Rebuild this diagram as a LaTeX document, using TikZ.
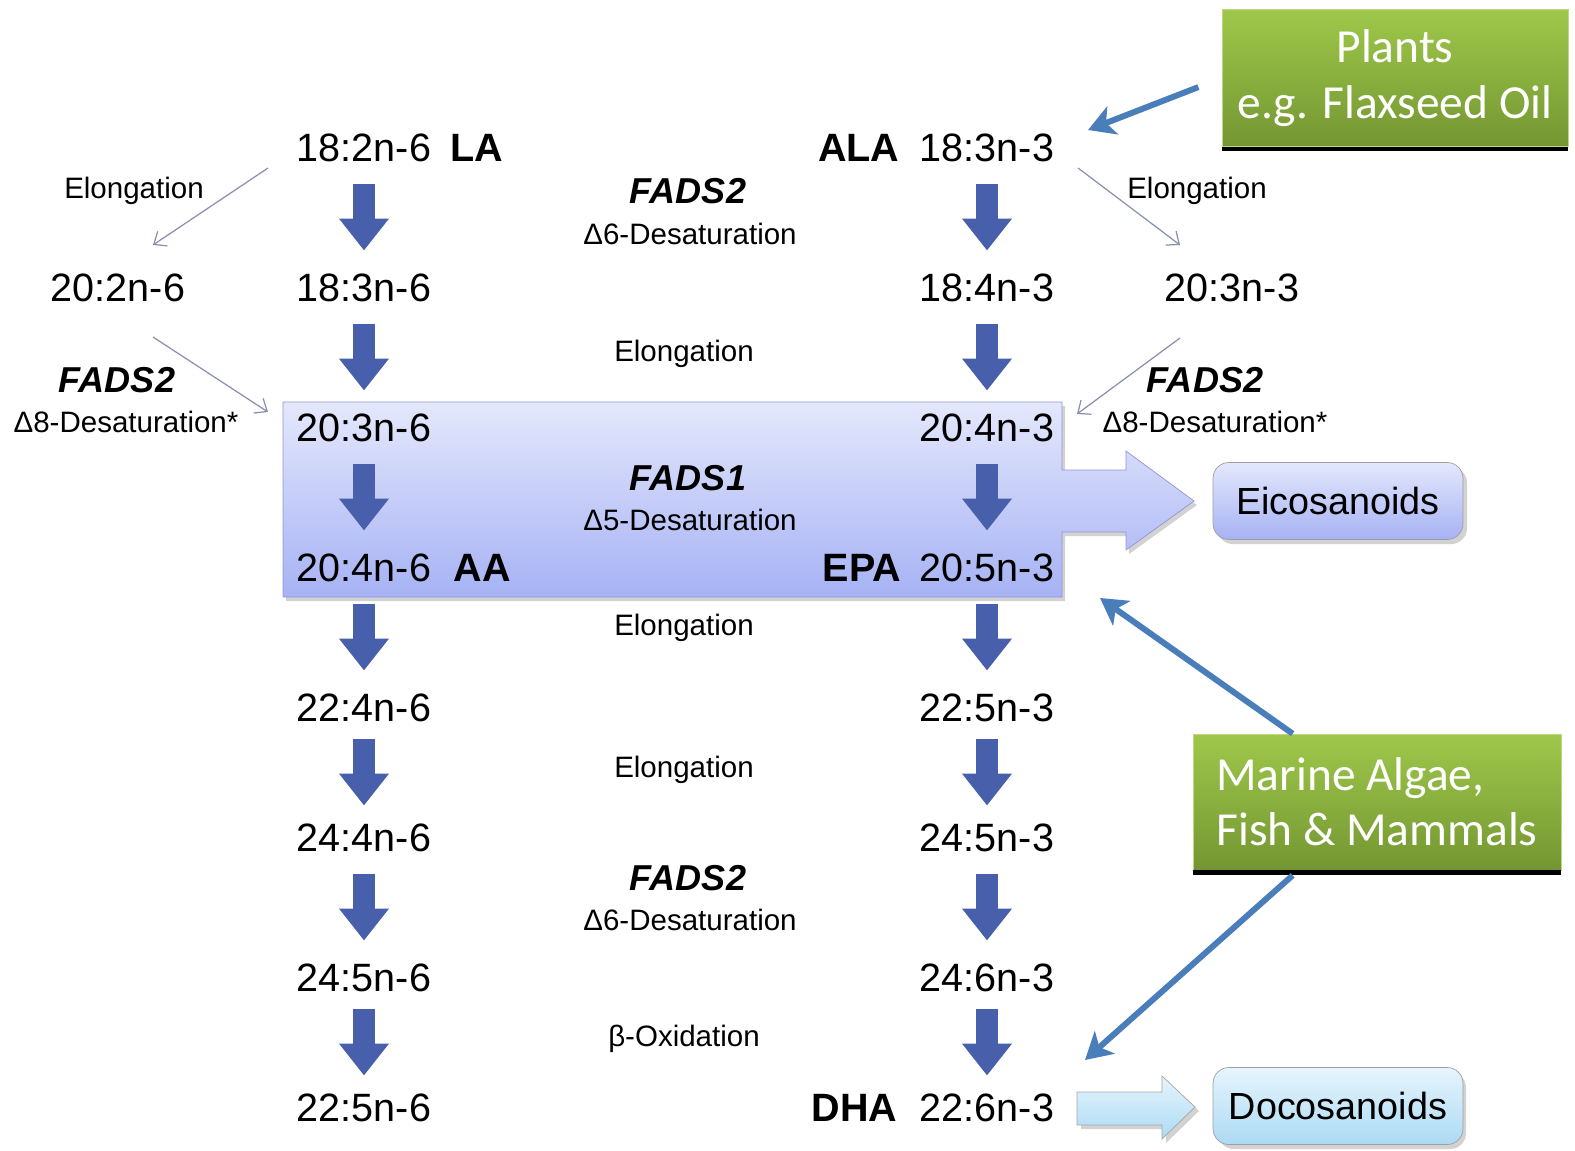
\documentclass[tikz,border=0pt]{standalone}
\usepackage{fontspec}
\setmainfont{Liberation Sans}
\newfontfamily\calibri{Carlito}
\usetikzlibrary{arrows.meta,positioning}
\definecolor{fatblue}{RGB}{72,96,172}
\definecolor{srcblue}{RGB}{74,126,187}
\definecolor{thingray}{RGB}{135,145,172}
\definecolor{pooltop}{RGB}{228,232,252}
\definecolor{poolbottom}{RGB}{166,178,244}
\definecolor{docotop}{RGB}{230,245,253}
\definecolor{docobottom}{RGB}{172,218,244}
\definecolor{greentop}{RGB}{158,200,74}
\definecolor{greenbottom}{RGB}{116,150,50}

\tikzset{
  fa/.style={font=\fontsize{22.5}{27}\selectfont, inner sep=0pt, text height=16pt, text depth=0pt},
  fabold/.style={fa, font=\fontsize{22.5}{27}\selectfont\bfseries},
  enzyme/.style={font=\fontsize{20.5}{24}\selectfont\bfseries\itshape, inner sep=0pt, text height=14.7pt, text depth=0pt},
  reaction/.style={font=\fontsize{16.8}{20}\selectfont, inner sep=0pt, text height=12pt, text depth=0pt},
  fat/.style={fatblue, line width=0.44cm, -{Triangle[length=0.64cm,width=0.96cm]}},
  side/.style={thingray, line width=0.7pt, -{Straight Barb[length=6pt,width=10pt]}},
  source/.style={srcblue, line width=3.4pt, -{Stealth[length=15pt,width=17pt,inset=4pt]}},
  product/.style={rounded corners=9pt, draw=gray!75, font=\fontsize{21.5}{26}\selectfont, minimum width=5cm, minimum height=1.54cm, inner sep=0pt},
  food/.style={draw=greentop!70!white, top color=greentop, bottom color=greenbottom, text=white, font=\calibri\fontsize{27}{31.5}\selectfont, inner sep=0pt}
}

\newcommand{\poolpath}{(283,402) -- (1062,402) -- (1062,470) -- (1126,470) -- (1126,451) -- (1194,501) -- (1126,550) -- (1126,532) -- (1062,532) -- (1062,597) -- (283,597) -- cycle}

\begin{document}
\begin{tikzpicture}[x=0.02cm, y=-0.02cm]
    \useasboundingbox (0,0) rectangle (1575,1150);

    % Desaturation pool
    \fill[gray!35, shift={(3,4)}] \poolpath;
    \shade[top color=pooltop, bottom color=poolbottom, draw=gray!60!blue!60] \poolpath;
    \fill[gray!35] (1081,1096) -- (1166,1096) -- (1166,1080) -- (1199,1111) -- (1166,1143) -- (1166,1129) -- (1081,1129) -- cycle;
    \shade[top color=docotop, bottom color=docobottom, draw=gray!70] (1077,1092) -- (1162,1092) -- (1162,1076) -- (1195,1107) -- (1162,1139) -- (1162,1125) -- (1077,1125) -- cycle;

    % n-6 series
    \node[fa] (la) at (364,147) {18:2n-6};
    \node[fa] (gla) at (364,287) {18:3n-6};
    \node[fa] (dgla) at (364,427) {20:3n-6};
    \node[fa] (aa) at (364,567) {20:4n-6};
    \node[fa] (adr) at (364,707) {22:4n-6};
    \node[fa] (tta) at (364,837) {24:4n-6};
    \node[fa] (tpa) at (364,977) {24:5n-6};
    \node[fa] (dpasix) at (364,1107) {22:5n-6};
    \node[fabold, right=0.38cm of la] (laname) {LA};
    \node[fabold, right=0.44cm of aa] (aaname) {AA};

    % n-3 series
    \node[fa] (ala) at (987,147) {18:3n-3};
    \node[fa] (sda) at (987,287) {18:4n-3};
    \node[fa] (eta) at (987,427) {20:4n-3};
    \node[fa] (epa) at (987,567) {20:5n-3};
    \node[fa] (dpa) at (987,707) {22:5n-3};
    \node[fa] (tpathree) at (987,837) {24:5n-3};
    \node[fa] (tha) at (987,977) {24:6n-3};
    \node[fa] (dha) at (987,1107) {22:6n-3};
    \node[fabold, left=0.4cm of ala] (alaname) {ALA};
    \node[fabold, left=0.36cm of epa] (epaname) {EPA};
    \node[fabold, left=0.44cm of dha] (dhaname) {DHA};

    % Steps
    \foreach \a/\b in {la/gla, gla/dgla, dgla/aa, aa/adr, adr/tta, tta/tpa, tpa/dpasix,
                       ala/sda, sda/eta, eta/epa, epa/dpa, dpa/tpathree, tpathree/tha, tha/dha} {
        \path (\a.south) -- (\b.north) coordinate[midway] (mid);
        \draw[fat] ([yshift=0.67cm]mid) -- ([yshift=-0.67cm]mid);
    }
    \node[enzyme] (fadsa) at (688,191) {FADS2};
    \node[reaction] (dsixa) at (690,234) {Δ6-Desaturation};
    \node[reaction] (eloa) at (684,351) {Elongation};
    \node[enzyme] (fadsb) at (688,478) {FADS1};
    \node[reaction] (dfive) at (690,520) {Δ5-Desaturation};
    \node[reaction] (elob) at (684,625) {Elongation};
    \node[reaction] (eloc) at (684,767) {Elongation};
    \node[enzyme] (fadsc) at (688,878) {FADS2};
    \node[reaction] (dsixb) at (690,920) {Δ6-Desaturation};
    \node[reaction] (betaox) at (684,1036) {β-Oxidation};

    % Side route
    \node[reaction] (eloleft) at (134,188) {Elongation};
    \node[fa] (edda) at (118,287) {20:2n-6};
    \node[enzyme] (fadsleft) at (117,380) {FADS2};
    \node[reaction] (deightleft) at (126,422) {Δ8-Desaturation*};
    \node[reaction] (eloright) at (1197,188) {Elongation};
    \node[fa] (etathree) at (1232,287) {20:3n-3};
    \node[enzyme] (fadsright) at (1205,380) {FADS2};
    \node[reaction] (deightright) at (1215,422) {Δ8-Desaturation*};
    \coordinate (sa) at (268,168);  \coordinate (ea) at (153,245);
    \coordinate (sb) at (153,337);  \coordinate (eb) at (268,412);
    \coordinate (sc) at (1078,168); \coordinate (ec) at (1180,245);
    \coordinate (sd) at (1180,338); \coordinate (ed) at (1077,414);
    \draw[side] (sa) -- (ea);
    \draw[side] (sb) -- (eb);
    \draw[side] (sc) -- (ec);
    \draw[side] (sd) -- (ed);

    % Products
    \fill[gray!35, rounded corners=9pt] (1217,467) rectangle (1467,544);
    \node[product, top color=pooltop, bottom color=poolbottom] (eico) at (1338,501) {Eicosanoids};
    \fill[gray!35, rounded corners=9pt] (1218,1072) rectangle (1466,1149);
    \node[product, top color=docotop, bottom color=docobottom] (doco) at (1338,1106) {Docosanoids};

    % Sources
    \node[food, minimum width=6.92cm, minimum height=2.74cm, align=center] (plants) at (1395,78) {Plants\\e.g. Flaxseed Oil};
    \fill[black] (plants.south west) rectangle ([yshift=-0.08cm]plants.south east);
    \node[food, minimum width=7.36cm, minimum height=2.72cm, align=left] (marine) at (1377,802) {Marine Algae,\\Fish \& Mammals};
    \fill[black] (marine.south west) rectangle ([yshift=-0.1cm]marine.south east);
    \coordinate (alain) at (1088,130);
    \coordinate (epain) at (1100,598);
    \coordinate (dhain) at (1085,1060);
    \draw[source, shorten <=0.5cm] (plants.west) -- (alain);
    \draw[source] ([xshift=2cm]marine.north west) -- (epain);
    \draw[source] ([xshift=2cm, yshift=-0.1cm]marine.south west) -- (dhain);
\end{tikzpicture}
\end{document}
